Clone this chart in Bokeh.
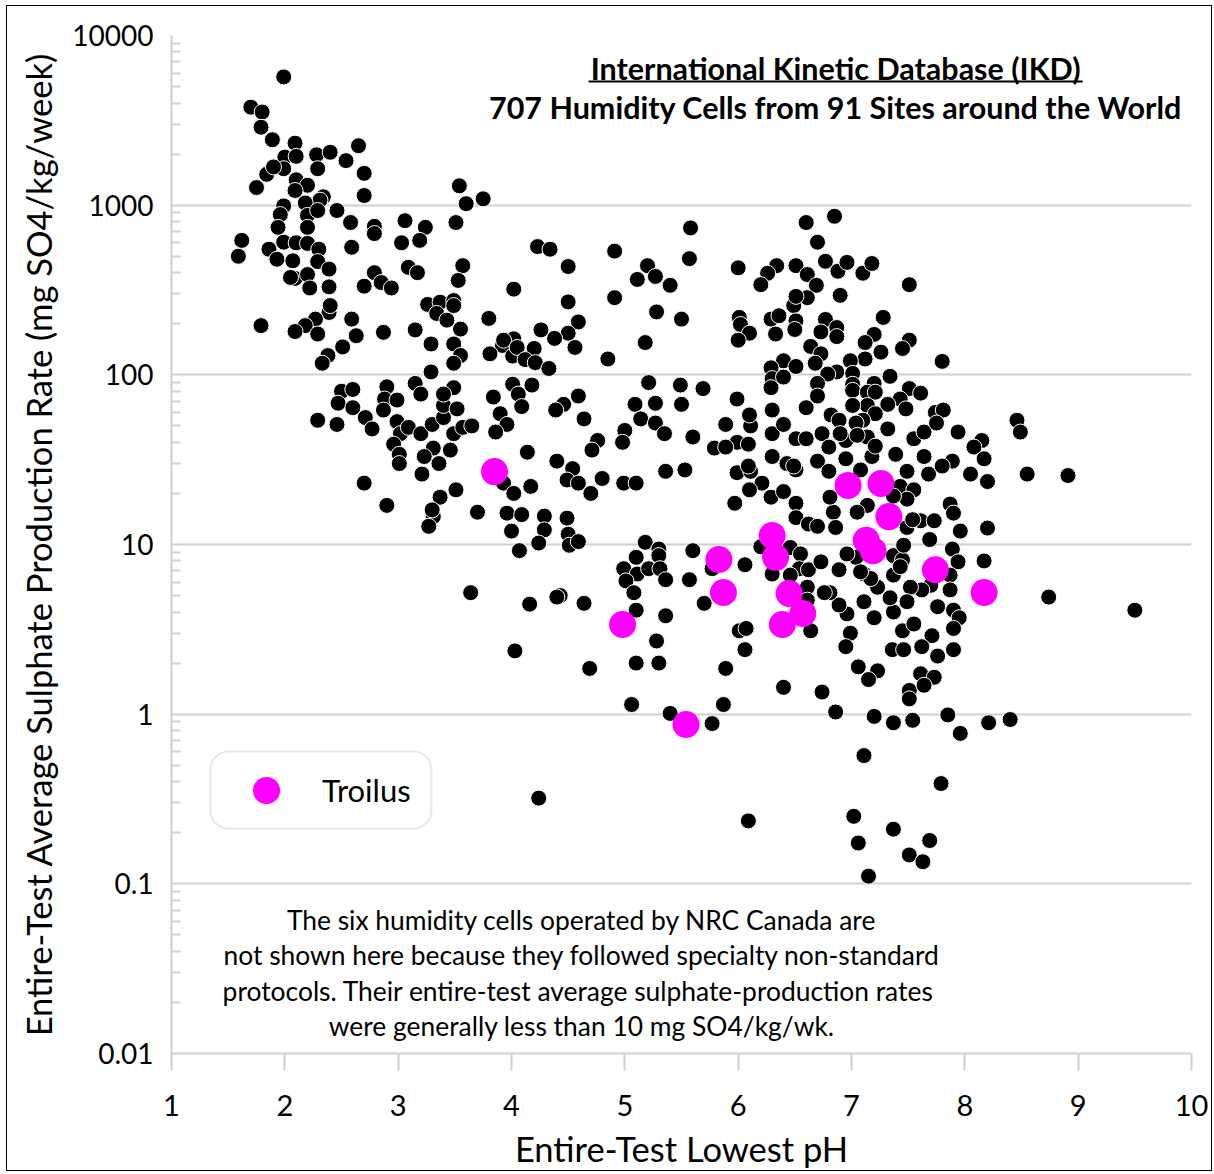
from bokeh.plotting import figure
from bokeh.models import (Range1d, FixedTicker, Label, Legend, LegendItem,
                          BoxAnnotation, ColumnDataSource)
from bokeh.embed import file_html
from bokeh.resources import INLINE

# ---------------- data ----------------
ikd_ph = [
    1.99, 1.70, 1.80, 1.79, 1.89, 2.09, 2.00, 2.10, 2.28, 2.40, 2.65, 2.54, 2.29, 2.70, 1.84, 1.99, 1.90, 1.75, 2.10, 2.20,
    2.09, 2.70, 3.54, 3.60, 3.75, 3.51, 2.34, 2.31, 2.46, 1.99, 1.96, 2.18, 2.20, 2.29, 2.58, 2.79, 2.79, 3.06, 3.24, 3.19,
    3.03, 1.94, 2.20, 1.62, 1.59, 1.99, 2.10, 2.20, 2.30, 1.86, 1.93, 2.07, 2.29, 2.59, 2.39, 3.09, 3.17, 3.57, 3.53, 2.79,
    2.85, 2.94, 2.70, 2.09, 2.20, 2.22, 2.39, 4.02, 3.26, 3.37, 3.49, 3.34, 3.43, 3.55, 3.80, 3.49, 3.55, 3.29, 3.15, 2.87,
    2.63, 2.59, 2.51, 2.39, 2.40, 2.27, 2.18, 2.09, 2.29, 1.79, 2.38, 3.92, 4.02, 3.81, 2.05, 2.33, 3.49, 3.29, 3.49, 4.01,
    2.50, 2.60, 2.47, 2.60, 2.29, 2.46, 2.71, 2.77, 2.90, 2.88, 2.99, 2.87, 2.99, 3.02, 2.96, 3.01, 3.01, 3.15, 3.20, 3.09,
    3.20, 3.30, 3.40, 3.40, 3.49, 3.40, 3.52, 3.49, 3.57, 3.65, 3.31, 3.46, 3.23, 3.36, 3.21, 3.84, 4.01, 3.90, 3.96, 3.86,
    2.70, 2.90, 3.37, 3.51, 3.31, 3.27, 3.70, 3.96, 3.93, 4.02, 4.00, 3.30, 4.23, 4.34, 4.91, 5.58, 5.57, 4.50, 5.20, 5.27,
    5.11, 5.40, 4.91, 4.50, 5.28, 5.50, 4.26, 4.59, 4.50, 4.38, 4.56, 5.18, 4.85, 3.93, 4.05, 4.20, 4.12, 4.21, 4.33, 5.21,
    5.49, 5.69, 4.18, 4.06, 4.09, 4.46, 4.39, 4.59, 4.64, 5.09, 5.27, 5.50, 5.14, 5.27, 5.35, 5.60, 5.79, 5.00, 4.98, 4.76,
    4.71, 4.14, 4.40, 4.54, 4.49, 4.59, 4.70, 4.80, 4.99, 5.10, 5.36, 5.53, 4.17, 5.89, 5.99, 6.09, 6.11, 6.30, 6.40, 6.51,
    6.30, 6.43, 6.51, 5.99, 6.11, 6.21, 6.10, 6.29, 6.40, 6.51, 5.97, 6.51, 4.49, 4.50, 4.51, 4.59, 4.43, 4.64, 5.18, 5.30,
    5.30, 5.10, 4.99, 5.11, 5.21, 5.31, 5.01, 5.08, 5.36, 5.10, 5.36, 5.60, 5.57, 5.77, 5.70, 6.06, 5.28, 5.10, 5.30, 4.69,
    5.89, 6.01, 6.07, 6.06, 6.40, 5.06, 5.40, 5.77, 5.87, 6.20, 6.30, 6.46, 6.55, 6.54, 6.46, 6.61, 6.61, 6.64, 6.62, 4.09,
    4.29, 4.29, 4.24, 4.07, 3.64, 4.16, 4.40, 4.03, 4.24, 6.60, 6.85, 6.70, 6.00, 6.34, 6.51, 6.26, 6.20, 6.61, 6.69, 6.77,
    6.88, 6.96, 7.10, 7.18, 7.51, 6.90, 6.61, 6.49, 6.51, 6.01, 6.02, 6.10, 6.00, 6.29, 6.36, 6.33, 6.51, 6.50, 6.77, 6.73,
    6.87, 6.87, 7.28, 7.20, 7.12, 7.51, 7.45, 7.26, 7.12, 6.99, 6.64, 6.73, 6.68, 7.80, 6.40, 6.51, 6.29, 6.30, 6.29, 6.40,
    6.87, 6.79, 7.01, 7.01, 7.01, 7.34, 7.20, 6.70, 6.70, 7.14, 7.21, 7.51, 7.61, 7.43, 7.48, 7.32, 7.14, 7.01, 7.21, 7.10,
    7.04, 5.99, 6.60, 6.30, 6.10, 6.82, 6.89, 6.60, 6.74, 5.89, 6.95, 6.80, 7.14, 7.32, 7.55, 7.64, 7.74, 7.81, 7.75, 7.94,
    8.15, 8.08, 8.17, 8.46, 8.49, 7.89, 7.64, 7.39, 7.18, 6.95, 6.70, 6.49, 6.09, 6.90, 7.05, 8.55, 8.05, 8.20, 7.80, 7.68,
    7.49, 7.21, 6.80, 7.08, 7.43, 7.55, 7.49, 7.37, 7.14, 7.05, 6.84, 6.81, 6.86, 7.61, 7.73, 7.49, 7.87, 7.90, 7.96, 8.20,
    7.69, 7.89, 7.94, 8.17, 7.87, 7.87, 7.90, 7.95, 7.90, 7.90, 7.76, 7.70, 7.62, 7.52, 7.49, 7.37, 7.34, 7.23, 7.20, 7.11,
    7.11, 7.17, 7.04, 7.08, 7.37, 7.45, 7.37, 7.46, 7.54, 6.96, 6.89, 6.81, 6.76, 6.89, 6.73, 6.99, 6.95, 7.45, 7.55, 7.71,
    7.62, 7.36, 7.46, 7.76, 7.06, 7.23, 7.15, 7.61, 7.73, 7.51, 6.62, 6.70, 6.74, 8.74, 6.96, 7.43, 6.86, 7.64, 7.51, 7.20,
    7.37, 7.54, 7.85, 7.96, 8.21, 8.40, 7.11, 7.79, 6.09, 7.02, 7.06, 7.37, 7.69, 7.51, 7.63, 7.15, 8.91, 9.50,
]
ikd_rate = [
    5700, 3780, 3540, 2880, 2430, 2320, 1920, 1940, 1980, 2050, 2240, 1830, 1640, 1540, 1520, 1640, 1680, 1270, 1410, 1310,
    1220, 1140, 1300, 1020, 1090, 790, 1120, 1070, 930, 990, 880, 1030, 870, 930, 790, 750, 680, 810, 740, 620,
    600, 740, 740, 620, 500, 605, 600, 595, 550, 550, 480, 470, 465, 565, 420, 430, 400, 440, 360, 400,
    350, 325, 333, 370, 390, 325, 330, 320, 260, 268, 274, 230, 210, 186, 215, 152, 130, 152, 184, 178,
    170, 213, 146, 233, 256, 213, 195, 180, 174, 195, 130, 149, 163, 133, 375, 117, 117, 104, 256, 129,
    80, 82, 68, 64, 54, 51, 56, 48, 85, 72, 71, 62, 53, 45, 39, 34, 30, 89, 77, 49,
    45, 51, 56, 66, 84, 77, 63, 45, 49, 50, 37, 36, 33, 30, 26, 74, 88, 59, 51, 46,
    23, 17, 19, 21, 14.6, 12.8, 15.5, 15.3, 23, 20, 12, 16, 570, 550, 536, 734, 484, 435, 440, 380,
    365, 337, 285, 269, 235, 213, 184, 205, 176, 164, 145, 155, 124, 160, 145, 143, 123, 118, 109, 90,
    87, 83, 87, 77, 65, 67, 62, 75, 55, 67, 68, 67, 55, 52, 45, 43, 37, 47, 40, 41,
    36, 35, 31, 28, 24, 23, 20, 24.5, 23, 23, 27, 27.5, 22, 51, 40, 39, 50, 45, 51, 42,
    33, 30, 27.5, 26.5, 27, 23, 21, 19, 20.5, 17.5, 17.5, 14.4, 14.3, 11.5, 9.9, 10.4, 5.0, 4.5, 10.3, 9.4,
    8.6, 8.4, 7.2, 6.7, 7.2, 7.2, 6.1, 5.2, 6.2, 4.1, 3.8, 9.2, 6.2, 7.2, 4.5, 7.6, 2.7, 2.0, 2.0, 1.86,
    1.86, 3.1, 3.2, 2.4, 1.44, 1.14, 1.01, 0.88, 1.14, 9.7, 6.7, 9.6, 8.8, 7.2, 6.6, 5.6, 4.7, 3.1, 7.1, 15,
    14.7, 12.2, 10.2, 9.2, 5.2, 4.45, 4.9, 2.36, 0.32, 790, 860, 605, 427, 440, 440, 397, 340, 390, 337, 467,
    408, 460, 397, 453, 340, 294, 285, 256, 290, 218, 198, 176, 160, 213, 223, 174, 208, 185, 212, 179,
    190, 168, 218, 173, 155, 160, 143, 136, 124, 121, 147, 133, 117, 120, 121, 112, 110, 95, 84, 97,
    104, 101, 102, 88, 81, 98, 89, 89, 75, 79, 79, 83, 78, 72, 63, 67, 66, 66, 59, 54,
    52, 72, 64, 62, 58, 58, 54, 42, 45, 37.5, 41, 37.5, 43, 48, 42, 46, 60, 62, 52, 46,
    41, 37.5, 32, 54, 46, 31, 33, 34, 33, 32, 31, 29, 29, 45, 44, 26, 26, 23.5, 29, 26,
    27, 38, 27, 27.5, 22, 21, 18.5, 19.3, 17, 15.5, 15.5, 19, 12.6, 13.8, 13.8, 12.6, 17.3, 15.3, 12, 12.5,
    10.7, 9.4, 7.9, 8.0, 6.6, 5.4, 4.1, 3.7, 3.2, 2.4, 4.3, 5.75, 5.4, 5.6, 4.6, 4.0, 4.85, 5.6, 3.7, 4.6,
    6.7, 6.3, 8.4, 6.9, 8.6, 8.1, 6.6, 9.9, 14, 3.9, 4.4, 5.2, 5.2, 7.1, 7.9, 3.0, 2.5, 3.1, 3.4, 2.9,
    2.5, 2.4, 2.4, 2.2, 1.9, 1.8, 1.6, 1.73, 1.65, 1.38, 13.2, 12.8, 1.35, 4.9, 8.8, 7.4, 1.03, 1.48, 1.23, 0.97,
    0.89, 0.92, 0.99, 0.77, 0.89, 0.93, 0.57, 0.39, 0.235, 0.25, 0.174, 0.21, 0.18, 0.148, 0.135, 0.111, 25.5, 4.1,
]
troilus_ph = [3.85, 4.98, 5.54, 5.83, 5.87, 6.30, 6.33, 6.45, 6.39, 6.57, 6.97, 7.26, 7.33, 7.13, 7.19, 7.74, 8.17]
troilus_rate = [26.9, 3.38, 0.87, 8.16, 5.21, 11.3, 8.4, 5.14, 3.38, 3.92, 22.3, 22.9, 14.6, 10.6, 9.2, 7.1, 5.21]

y_ticks = [0.01, 0.1, 1, 10, 100, 1000, 10000]
y_tick_labels = ["0.01", "0.1", "1", "10", "100", "1000", "10000"]
x_ticks = [1, 2, 3, 4, 5, 6, 7, 8, 9, 10]
x_tick_labels = [str(t) for t in x_ticks]

title_1 = "International Kinetic Database (IKD)"
title_2 = "707 Humidity Cells from 91 Sites around the World"
note_lines = [
    "The six humidity cells operated by NRC Canada are",
    "not shown here because they followed specialty non-standard",
    "protocols.  Their entire-test average sulphate-production rates",
    "were generally less than 10 mg SO4/kg/wk.",
]
# ---------------------------------------------------------------

assert len(ikd_ph) == len(ikd_rate)

FONT = "Lato"
GRID = "#d0d0d0"

p = figure(width=1214, height=1174, x_range=Range1d(1, 10), y_range=Range1d(0.01, 10000),
           y_axis_type="log", output_backend="svg", toolbar_location=None,
           min_border_left=171, min_border_right=23, min_border_top=35, min_border_bottom=121)
p.outline_line_color = None
p.background_fill_color = "white"
# transparent border area, so the thin black frame drawn by the host element shows
p.border_fill_color = None
p.styles = {"background-color": "white",
            "box-shadow": "inset 2px 1px 0 4px white, inset 2px 1px 0 5px black"}

minor = []
for d in y_ticks[:-1]:
    minor += [d * k for k in range(2, 10)]

# y axis
p.yaxis.ticker = FixedTicker(ticks=y_ticks, minor_ticks=minor)
p.yaxis.major_label_overrides = {t: s for t, s in zip(y_ticks, y_tick_labels)}
p.yaxis.axis_line_color = GRID
p.yaxis.axis_line_width = 2
p.yaxis.major_tick_in = 0
p.yaxis.major_tick_out = 0
p.yaxis.minor_tick_in = 9
p.yaxis.minor_tick_out = 0
p.yaxis.minor_tick_line_color = GRID
p.yaxis.minor_tick_line_width = 2
p.yaxis.major_label_text_font = FONT
p.yaxis.major_label_text_font_size = "28px"
p.yaxis.major_label_text_color = "black"
p.yaxis.major_label_standoff = 18
p.yaxis.axis_label = "Entire-Test Average Sulphate Production Rate (mg SO4/kg/week)"
p.yaxis.axis_label_text_font = FONT
p.yaxis.axis_label_text_font_size = "34.5px"
p.yaxis.axis_label_text_font_style = "normal"
p.yaxis.axis_label_text_color = "black"
p.yaxis.axis_label_standoff = 10

# x axis
p.xaxis.ticker = FixedTicker(ticks=x_ticks, minor_ticks=[])
p.xaxis.major_label_overrides = {t: s for t, s in zip(x_ticks, x_tick_labels)}
p.xaxis.axis_line_color = GRID
p.xaxis.axis_line_width = 2
p.xaxis.major_tick_in = 0
p.xaxis.major_tick_out = 17
p.xaxis.major_tick_line_color = GRID
p.xaxis.major_tick_line_width = 2
p.xaxis.minor_tick_line_color = None
p.xaxis.major_label_text_font = FONT
p.xaxis.major_label_text_font_size = "29px"
p.xaxis.major_label_text_color = "black"
p.xaxis.major_label_standoff = 24
p.xaxis.axis_label = "Entire-Test Lowest pH"
p.xaxis.axis_label_text_font = FONT
p.xaxis.axis_label_text_font_size = "34.5px"
p.xaxis.axis_label_text_font_style = "normal"
p.xaxis.axis_label_text_color = "black"
p.xaxis.axis_label_standoff = 9

p.xgrid.visible = False
p.ygrid.grid_line_color = GRID
p.ygrid.grid_line_width = 2

# points
src_ikd = ColumnDataSource(dict(ph=ikd_ph, rate=ikd_rate))
src_tro = ColumnDataSource(dict(ph=troilus_ph, rate=troilus_rate))
p.scatter("ph", "rate", source=src_ikd, size=16, marker="circle",
          fill_color="black", line_color="white", line_width=1)
r_tro = p.scatter("ph", "rate", source=src_tro, size=27, marker="circle",
                  fill_color="#ff00ff", line_color=None)

# legend box (rounded) + legend
box = BoxAnnotation(left=1.344, right=3.294, top=0.6026, bottom=0.2120,
                    fill_color="white", fill_alpha=1.0,
                    line_color="#b4b4b4", line_width=2)
try:
    box.border_radius = 18
except Exception:
    pass
p.add_layout(box)

legend = Legend(items=[LegendItem(label="Troilus", renderers=[r_tro])],
                location=(61, 229), glyph_width=68, glyph_height=68, label_standoff=22,
                padding=0, margin=0, spacing=0,
                border_line_color=None, background_fill_alpha=0,
                label_text_font=FONT, label_text_font_size="31px", label_text_color="black")
p.add_layout(legend)

# titles
p.add_layout(Label(x=6.86, y=6470, text=title_1, text_align="center", text_baseline="middle",
                   text_font=FONT, text_font_style="bold", text_font_size="30.5px", text_color="black"))
p.segment(x0=[4.68], x1=[9.04], y0=[5360], y1=[5360], line_color="black", line_width=2)
p.add_layout(Label(x=6.86, y=3770, text=title_2, text_align="center", text_baseline="middle",
                   text_font=FONT, text_font_style="bold", text_font_size="30.5px", text_color="black"))

# note
note_y = [0.0608, 0.0379, 0.0235, 0.0146]
for line, yy in zip(note_lines, note_y):
    p.add_layout(Label(x=4.62, y=yy, text=line, text_align="center", text_baseline="middle",
                       text_font=FONT, text_font_size="26.4px", text_color="black"))

open("out.html", "w").write(file_html(p, INLINE))
